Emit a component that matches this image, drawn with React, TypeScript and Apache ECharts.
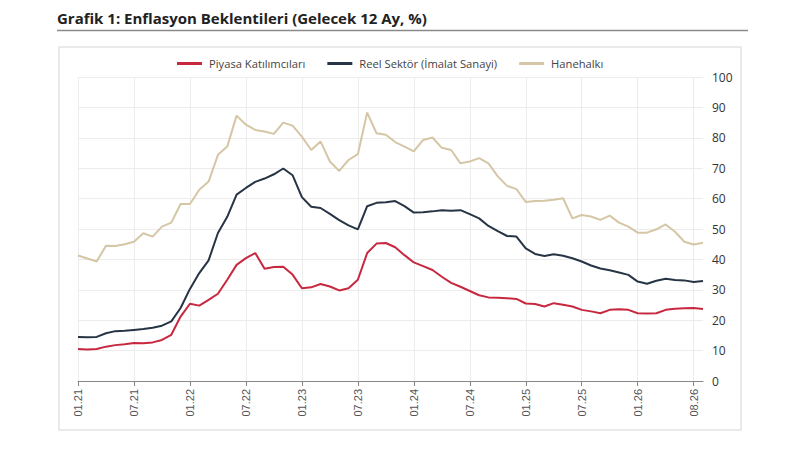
import { useEffect, useRef } from 'react';
import * as echarts from 'echarts';

// 01.21 .. 08.26, monthly
const months: string[] = [];
for (let y = 21; y <= 26; y++) {
  for (let m = 1; m <= 12; m++) {
    if (y === 26 && m > 8) break;
    months.push(`${String(m).padStart(2, '0')}.${y}`);
  }
}

const piyasa = [
  10.5, 10.4, 10.5, 11.3, 11.8, 12.1, 12.5, 12.4, 12.7, 13.5, 15.2, 21.2,
  25.4, 24.8, 26.7, 28.7, 33.3, 38.2, 40.4, 42.1, 36.9, 37.5, 37.6, 35.0,
  30.5, 30.8, 31.9, 31.1, 29.8, 30.5, 33.3, 42.1, 45.2, 45.4, 44.0, 41.4,
  39.0, 37.8, 36.5, 34.3, 32.3, 31.0, 29.6, 28.2, 27.5, 27.4, 27.2, 27.0,
  25.5, 25.3, 24.5, 25.6, 25.1, 24.5, 23.4, 22.9, 22.3, 23.4, 23.6, 23.4,
  22.3, 22.2, 22.3, 23.4, 23.8, 23.9, 24.0, 23.7,
];

const reelSektor = [
  14.5, 14.4, 14.5, 15.7, 16.4, 16.5, 16.8, 17.1, 17.5, 18.2, 19.6, 24.0,
  30.3, 35.5, 39.7, 48.7, 54.0, 61.3, 63.5, 65.5, 66.6, 68.0, 69.9, 67.7,
  60.5, 57.3, 56.9, 55.0, 52.9, 51.2, 49.9, 57.5, 58.6, 58.8, 59.2, 57.5,
  55.4, 55.5, 55.8, 56.2, 56.0, 56.2, 54.9, 53.5, 51.0, 49.3, 47.7, 47.5,
  43.6, 41.8, 41.1, 41.7, 41.2, 40.4, 39.3, 38.0, 37.0, 36.4, 35.7, 34.9,
  32.7, 32.0, 33.0, 33.6, 33.2, 33.1, 32.6, 32.9,
];

const hanehalki = [
  41.3, 40.3, 39.3, 44.5, 44.4, 45.0, 45.8, 48.6, 47.5, 50.8, 52.1, 58.2,
  58.2, 62.9, 65.6, 74.4, 77.1, 87.3, 84.3, 82.6, 82.1, 81.3, 85.0, 84.0,
  80.4, 76.0, 78.8, 72.2, 69.1, 72.7, 74.6, 88.3, 81.5, 81.0, 78.6, 77.1,
  75.5, 79.3, 80.1, 76.7, 76.0, 71.6, 72.2, 73.3, 71.6, 67.3, 64.2, 63.1,
  58.9, 59.2, 59.3, 59.6, 60.1, 53.5, 54.6, 54.1, 53.0, 54.4, 52.1, 50.8,
  48.8, 48.8, 49.9, 51.5, 49.1, 45.8, 44.9, 45.5,
];

const seriesNames = ['Piyasa Katılımcıları', 'Reel Sektör (İmalat Sanayi)', 'Hanehalkı'];
const seriesColors = ['#C8283F', '#263445', '#D5C6A6'];

// label positions: every 6 months, the last one carries the final month
const showTick = (index: number) => index % 6 === 0;

export default function App() {
  const chartRef = useRef<HTMLDivElement>(null);

  useEffect(() => {
    if (!chartRef.current) return;
    const chart = echarts.init(chartRef.current, undefined, { renderer: 'svg' });

    const option = {
      animation: false,
      title: {
        text: 'Grafik 1: Enflasyon Beklentileri (Gelecek 12 Ay, %)',
        left: 57,
        top: 10,
        padding: 0,
        textStyle: {
          fontFamily: 'Open Sans',
          fontSize: 15,
          fontWeight: 'bold',
          color: '#222'
        }
      },
      graphic: [
        {
          type: 'line',
          shape: { x1: 57, y1: 30.5, x2: 748, y2: 30.5 },
          style: { stroke: '#8a8a8a', lineWidth: 1.5 }
        },
        {
          type: 'rect',
          shape: { x: 59, y: 47, width: 682, height: 383 },
          style: { fill: 'none', stroke: '#e3e3e3', lineWidth: 1.5 }
        }
      ],
      legend: {
        top: 53,
        left: 172,
        itemWidth: 25,
        itemHeight: 3,
        itemGap: 22,
        icon: 'rect',
        textStyle: {
          fontFamily: 'Open Sans',
          fontSize: 11.2,
          color: '#444',
          padding: [0, 0, 0, 2]
        },
        data: seriesNames
      },
      grid: {
        left: 78,
        right: 97,
        top: 77,
        bottom: 72
      },
      xAxis: {
        type: 'category',
        boundaryGap: false,
        data: months,
        axisLine: { lineStyle: { color: '#888', width: 1 } },
        axisTick: {
          interval: (index: number) => showTick(index),
          length: 5,
          lineStyle: { color: '#888' }
        },
        axisLabel: {
          interval: (index: number) => showTick(index),
          formatter: (value: string, index: number) =>
            index === months.length - 2 ? months[months.length - 1] : value,
          rotate: 90,
          margin: 8,
          fontFamily: 'Liberation Sans',
          fontSize: 11,
          color: '#555'
        },
        splitLine: {
          show: true,
          interval: (index: number) => showTick(index),
          lineStyle: { color: '#ececec' }
        }
      },
      yAxis: {
        type: 'value',
        position: 'right',
        min: 0,
        max: 100,
        interval: 10,
        axisLine: { show: false },
        axisTick: { show: false },
        axisLabel: {
          margin: 9,
          fontFamily: 'Open Sans',
          fontSize: 12,
          color: '#333'
        },
        splitLine: { lineStyle: { color: '#ececec' } }
      },
      series: [piyasa, reelSektor, hanehalki].map((data, i) => ({
        name: seriesNames[i],
        type: 'line',
        data,
        symbol: 'none',
        lineStyle: { width: 2, color: seriesColors[i] },
        itemStyle: { color: seriesColors[i] },
        z: 3 - i
      }))
    };

    chart.setOption(option);

    return () => {
      chart.dispose();
    };
  }, []);

  return (
    <div
      ref={chartRef}
      style={{ position: 'fixed', left: 0, top: 0, width: '800px', height: '453px', background: '#fff' }}
    />
  );
}
